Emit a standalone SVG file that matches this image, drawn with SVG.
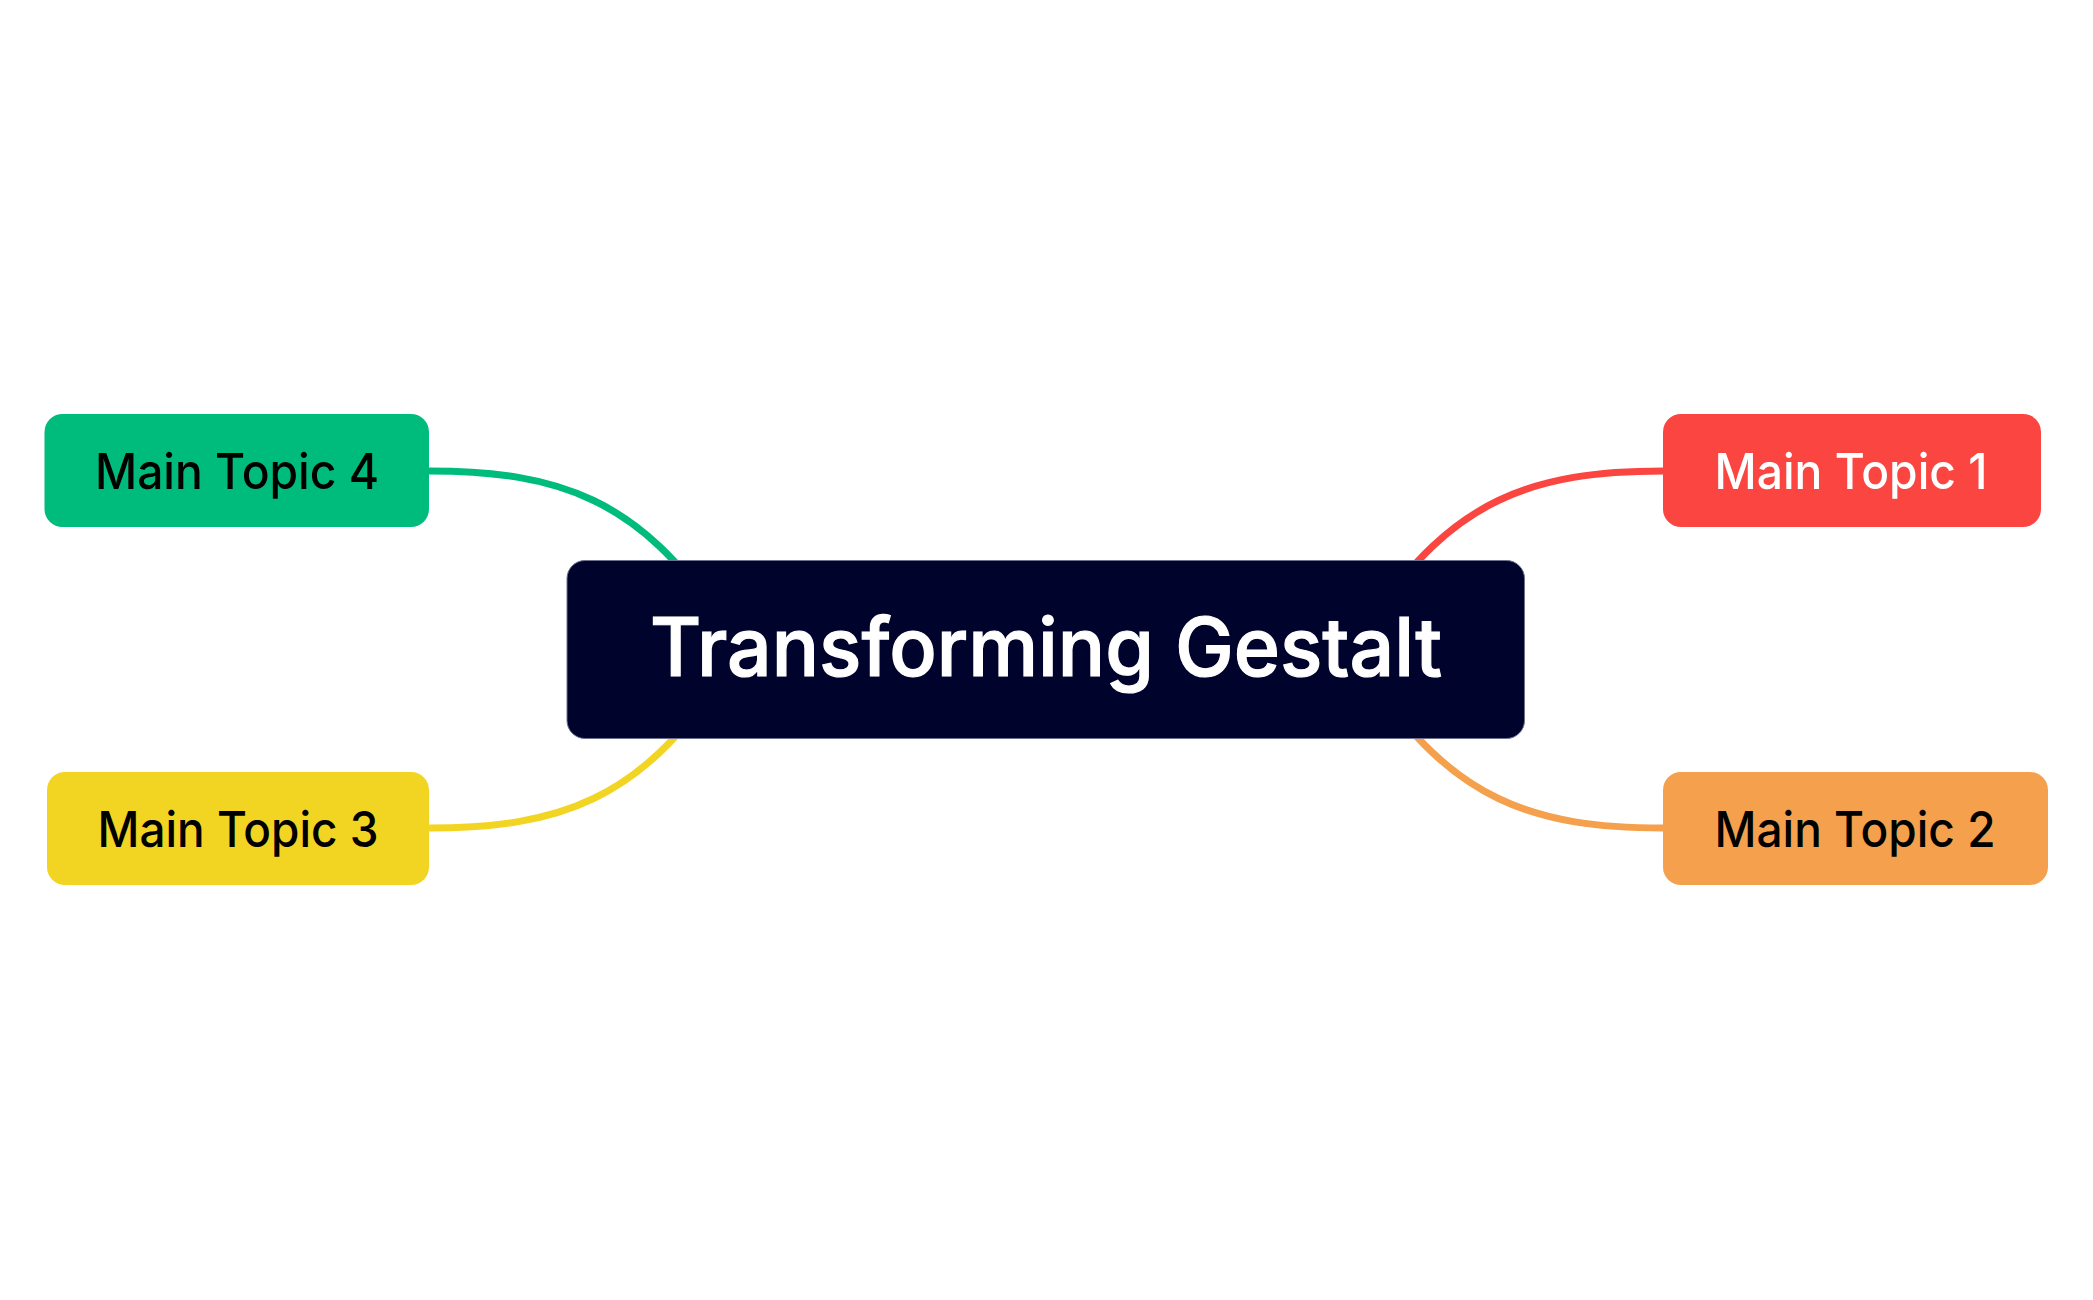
<svg xmlns="http://www.w3.org/2000/svg" width="2093" height="1300" viewBox="0 0 2093 1300">
<style>
.conn{fill:none;stroke-width:7;stroke-linecap:round}
.topic{font-family:Inter,"Open Sans","Liberation Sans",sans-serif;font-size:50px;font-weight:500;text-anchor:middle}
.title{font-family:Inter,"Open Sans","Liberation Sans",sans-serif;font-size:81px;font-weight:500;text-anchor:middle;fill:#ffffff;stroke:#ffffff;stroke-width:1.2}
</style>
<rect x="0" y="0" width="2093" height="1300" fill="#ffffff"/>
<g id="connectors">
<path class="conn" stroke="#FA4540" d="M1663,471 C1532,471 1452,500 1372,620"/>
<path class="conn" stroke="#F5A04C" d="M1663,828 C1532,828 1452,799 1372,679"/>
<path class="conn" stroke="#F2D422" d="M429,828 C560,828 640,799 720,679"/>
<path class="conn" stroke="#00BC7C" d="M429,471 C560,471 640,500 720,620"/>
</g>
<g id="center">
<rect x="567" y="560.5" width="957.5" height="178" rx="18" fill="#00032B" stroke="#6E7190" stroke-width="1"/>
<text class="title" x="1046" y="676" textLength="792" lengthAdjust="spacingAndGlyphs">Transforming Gestalt</text>
</g>
<g id="topic1">
<rect x="1663" y="414" width="378" height="113" rx="18" fill="#FA4540"/>
<text class="topic" x="1851" y="489" fill="#ffffff" textLength="273" lengthAdjust="spacingAndGlyphs">Main Topic 1</text>
</g>
<g id="topic2">
<rect x="1663" y="772" width="385" height="113" rx="18" fill="#F5A04C"/>
<text class="topic" x="1855" y="847" fill="#000000" textLength="281" lengthAdjust="spacingAndGlyphs">Main Topic 2</text>
</g>
<g id="topic3">
<rect x="47" y="772" width="382" height="113" rx="18" fill="#F2D422"/>
<text class="topic" x="238" y="847" fill="#000000" textLength="281" lengthAdjust="spacingAndGlyphs">Main Topic 3</text>
</g>
<g id="topic4">
<rect x="44.5" y="414" width="384.5" height="113" rx="18" fill="#00BC7C"/>
<text class="topic" x="237" y="489" fill="#000000" textLength="284" lengthAdjust="spacingAndGlyphs">Main Topic 4</text>
</g>
</svg>
